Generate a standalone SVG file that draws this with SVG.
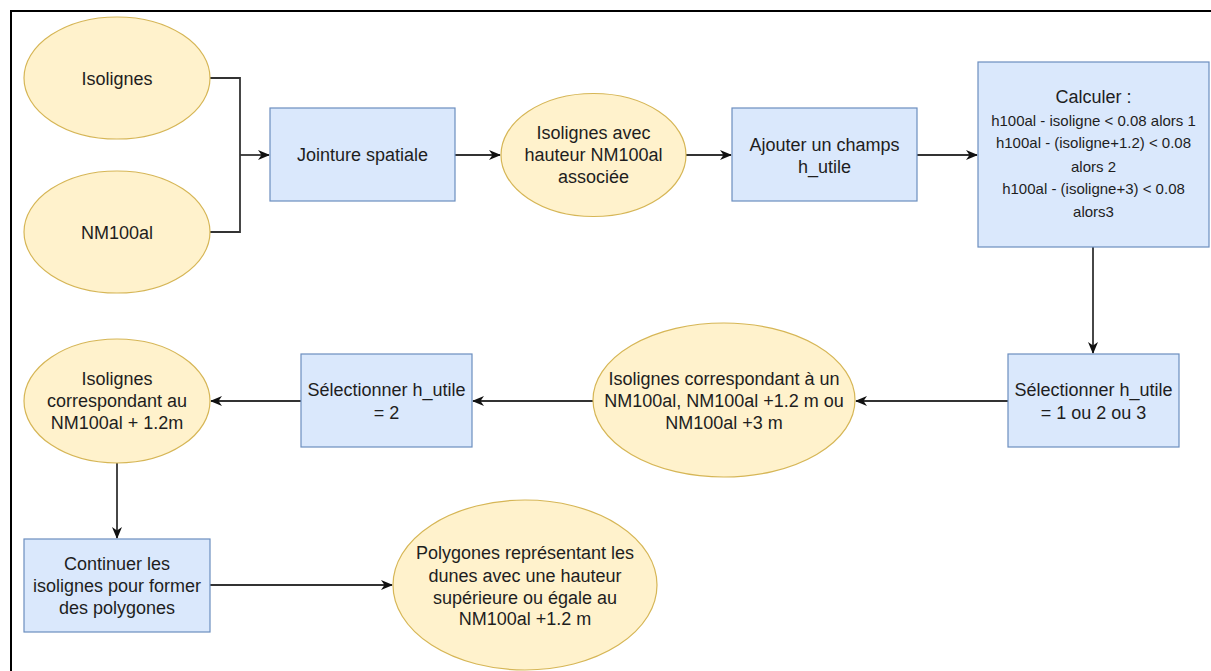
<svg xmlns="http://www.w3.org/2000/svg" width="1211" height="671" viewBox="0 0 1211 671">
  <defs>
    <marker id="arrow" viewBox="0 0 12 10" refX="11" refY="5" markerWidth="12" markerHeight="10" markerUnits="userSpaceOnUse" orient="auto">
      <path d="M0,0 L12,5 L0,10 L3.5,5 Z" fill="#111"/>
    </marker>
    <style>
      .data { fill: #fff2cc; stroke: #d6b656; stroke-width: 1.2; }
      .step { fill: #dae8fc; stroke: #6c8ebf; stroke-width: 1.2; }
      .lbl { font-family: "Liberation Sans", Arial, sans-serif; font-size: 18px; fill: #1e1e1e; text-anchor: middle; }
      .small { font-size: 15px; }
      .edge { fill: none; stroke: #333; stroke-width: 1.8; }
      .frame { fill: none; stroke: #000; stroke-width: 2; }
    </style>
  </defs>

  <rect width="1211" height="671" fill="#fff"/>
  <!-- outer frame (top and left edges) -->
  <path class="frame" d="M11,671 L11,11 L1211,11"/>

  <!-- connectors -->
  <g id="connectors">
    <path class="edge" d="M210,78 H240 V232 H210"/>
    <path class="edge" d="M240,155 H269" marker-end="url(#arrow)"/>
    <path class="edge" d="M455,155 H500" marker-end="url(#arrow)"/>
    <path class="edge" d="M686,155 H731" marker-end="url(#arrow)"/>
    <path class="edge" d="M917,155 H977" marker-end="url(#arrow)"/>
    <path class="edge" d="M1093,247 V353" marker-end="url(#arrow)"/>
    <path class="edge" d="M1008,401 H856" marker-end="url(#arrow)"/>
    <path class="edge" d="M593,401 H473" marker-end="url(#arrow)"/>
    <path class="edge" d="M301,401 H211" marker-end="url(#arrow)"/>
    <path class="edge" d="M117,463 V538" marker-end="url(#arrow)"/>
    <path class="edge" d="M210,585 H392" marker-end="url(#arrow)"/>
  </g>

  <g id="isolignes">
    <ellipse class="data" cx="117" cy="78" rx="93" ry="61"/>
    <text class="lbl" x="117" y="85">Isolignes</text>
  </g>

  <g id="nm100al">
    <ellipse class="data" cx="117" cy="232" rx="93" ry="61"/>
    <text class="lbl" x="117" y="239">NM100al</text>
  </g>

  <g id="jointure">
    <rect class="step" x="270" y="108" width="185" height="93"/>
    <text class="lbl" x="362.5" y="161">Jointure spatiale</text>
  </g>

  <g id="isolignes-hauteur">
    <ellipse class="data" cx="593.5" cy="155" rx="92.5" ry="61.5"/>
    <text class="lbl" x="593.5" y="139">Isolignes avec</text>
    <text class="lbl" x="593.5" y="161">hauteur NM100al</text>
    <text class="lbl" x="593.5" y="183">associée</text>
  </g>

  <g id="ajouter-champ">
    <rect class="step" x="732" y="108" width="185" height="93"/>
    <text class="lbl" x="824.5" y="151">Ajouter un champs</text>
    <text class="lbl" x="824.5" y="173">h_utile</text>
  </g>

  <g id="calculer">
    <rect class="step" x="978" y="62" width="231" height="185"/>
    <text class="lbl" x="1093.5" y="103">Calculer :</text>
    <text class="lbl small" x="1093.5" y="126">h100al - isoligne &lt; 0.08 alors 1</text>
    <text class="lbl small" x="1093.5" y="148">h100al - (isoligne+1.2) &lt; 0.08</text>
    <text class="lbl small" x="1093.5" y="172">alors 2</text>
    <text class="lbl small" x="1093.5" y="194">h100al - (isoligne+3) &lt; 0.08</text>
    <text class="lbl small" x="1093.5" y="217">alors3</text>
  </g>

  <g id="selection-123">
    <rect class="step" x="1008" y="354" width="171" height="93"/>
    <text class="lbl" x="1093.5" y="396">Sélectionner h_utile</text>
    <text class="lbl" x="1093.5" y="419">= 1 ou 2 ou 3</text>
  </g>

  <g id="isolignes-nm">
    <ellipse class="data" cx="724" cy="400" rx="131" ry="77"/>
    <text class="lbl" x="724" y="385">Isolignes correspondant à un</text>
    <text class="lbl" x="724" y="407">NM100al, NM100al +1.2 m ou</text>
    <text class="lbl" x="724" y="429">NM100al +3 m</text>
  </g>

  <g id="selection-2">
    <rect class="step" x="301" y="354" width="171" height="93"/>
    <text class="lbl" x="386.5" y="396">Sélectionner h_utile</text>
    <text class="lbl" x="386.5" y="419">= 2</text>
  </g>

  <g id="isolignes-12">
    <ellipse class="data" cx="117" cy="401" rx="93" ry="62"/>
    <text class="lbl" x="117" y="385">Isolignes</text>
    <text class="lbl" x="117" y="407">correspondant au</text>
    <text class="lbl" x="117" y="429">NM100al + 1.2m</text>
  </g>

  <g id="continuer">
    <rect class="step" x="24" y="539" width="186" height="93"/>
    <text class="lbl" x="117" y="570">Continuer les</text>
    <text class="lbl" x="117" y="592">isolignes pour former</text>
    <text class="lbl" x="117" y="614">des polygones</text>
  </g>

  <g id="polygones">
    <ellipse class="data" cx="525" cy="585" rx="132" ry="85"/>
    <text class="lbl" x="525" y="559">Polygones représentant les</text>
    <text class="lbl" x="525" y="582">dunes avec une hauteur</text>
    <text class="lbl" x="525" y="604">supérieure ou égale au</text>
    <text class="lbl" x="525" y="625">NM100al +1.2 m</text>
  </g>
</svg>
